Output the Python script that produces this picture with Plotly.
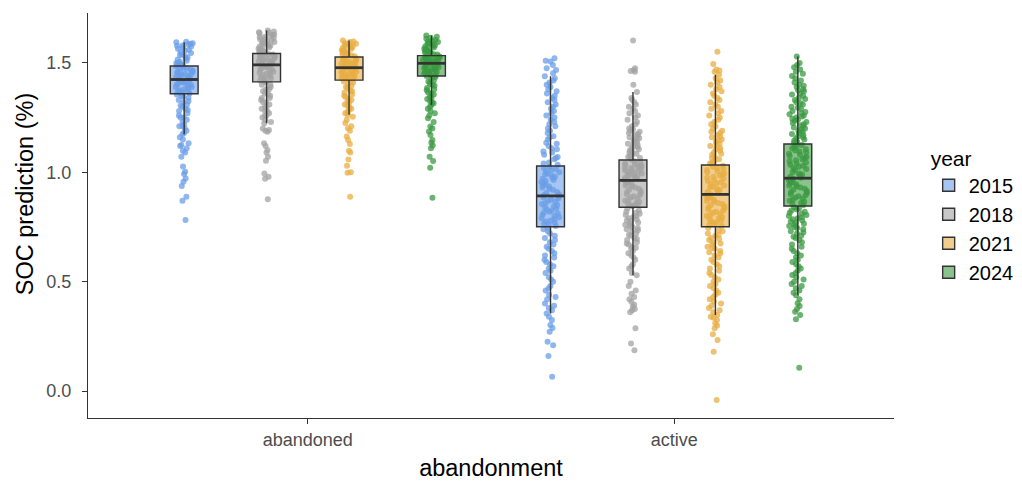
import plotly.graph_objects as go

categories = ["abandoned", "active"]
years = ["2015", "2018", "2021", "2024"]

# ---- box statistics (one value per year: 2015, 2018, 2021, 2024)
q1_abandoned = [1.359, 1.413, 1.421, 1.440]
median_abandoned = [1.424, 1.491, 1.478, 1.498]
q3_abandoned = [1.486, 1.543, 1.527, 1.533]
lower_abandoned = [1.174, 1.224, 1.263, 1.308]
upper_abandoned = [1.594, 1.648, 1.602, 1.625]

q1_active = [0.751, 0.840, 0.751, 0.846]
median_active = [0.892, 0.963, 0.899, 0.973]
q3_active = [1.029, 1.056, 1.033, 1.129]
lower_active = [0.355, 0.529, 0.348, 0.438]
upper_active = [1.439, 1.367, 1.446, 1.529]

pts_abandoned_2015 = [
    1.594, 1.59, 1.585, 1.58, 1.575, 1.57, 1.56, 1.555, 1.55, 1.54, 1.535, 1.53, 1.52, 1.51, 1.505, 1.50, 1.495, 1.49,
    1.485, 1.48, 1.475, 1.47, 1.465, 1.46, 1.455, 1.45, 1.445, 1.44, 1.435, 1.43, 1.425,
    1.42, 1.415, 1.41, 1.405, 1.40, 1.395, 1.39, 1.385, 1.38, 1.375, 1.37, 1.365, 1.36,
    1.355, 1.35, 1.34, 1.33, 1.32, 1.31, 1.30, 1.29, 1.28, 1.27, 1.26, 1.25, 1.24, 1.23, 1.22, 1.21, 1.20, 1.19, 1.18, 1.174,
    1.16, 1.15, 1.133, 1.125, 1.12, 1.11, 1.099, 1.09, 1.071, 1.026, 1.003, 0.992, 0.972, 0.957, 0.937, 0.888, 0.870, 0.782,
    1.597, 1.588, 1.578, 1.565, 1.545, 1.525, 1.515, 1.50, 1.49, 1.47, 1.46, 1.45, 1.44, 1.43, 1.41, 1.40, 1.39, 1.37,
    1.36, 1.345, 1.325, 1.305, 1.285, 1.25, 1.21,
]
pts_abandoned_2018 = [
    1.545, 1.55, 1.555, 1.56, 1.565, 1.57, 1.575, 1.58, 1.585, 1.59, 1.595, 1.60, 1.605, 1.61, 1.615, 1.62, 1.625, 1.63, 1.635, 1.64, 1.648,
    1.495, 1.50, 1.505, 1.51, 1.515, 1.52, 1.525, 1.53, 1.535, 1.54, 1.498, 1.508, 1.518, 1.528, 1.538,
    1.415, 1.42, 1.425, 1.43, 1.435, 1.44, 1.445, 1.45, 1.455, 1.46, 1.465, 1.47, 1.475, 1.48, 1.485,
    1.41, 1.40, 1.39, 1.38, 1.37, 1.36, 1.35, 1.34, 1.33, 1.32, 1.31, 1.30, 1.29, 1.28, 1.27, 1.26, 1.25, 1.24, 1.23, 1.224,
    1.20, 1.193, 1.19, 1.185, 1.133, 1.12, 1.102, 1.09, 1.071, 1.053, 0.995, 0.980, 0.97, 0.877,
    1.644, 1.638, 1.628, 1.618, 1.608, 1.598, 1.588, 1.578, 1.568, 1.558, 1.548, 1.53, 1.51, 1.49, 1.47, 1.45, 1.43,
    1.40, 1.38, 1.36, 1.34, 1.32, 1.30, 1.28, 1.26,
]
pts_abandoned_2021 = [
    1.53, 1.535, 1.54, 1.545, 1.55, 1.555, 1.56, 1.565, 1.57, 1.575, 1.58, 1.585, 1.59, 1.595, 1.602,
    1.48, 1.485, 1.49, 1.495, 1.50, 1.505, 1.51, 1.515, 1.52, 1.525, 1.483, 1.493, 1.503, 1.513,
    1.425, 1.43, 1.435, 1.44, 1.445, 1.45, 1.455, 1.46, 1.465, 1.47, 1.475, 1.428, 1.438, 1.448,
    1.415, 1.405, 1.395, 1.385, 1.375, 1.365, 1.355, 1.345, 1.335, 1.325, 1.315, 1.305, 1.295, 1.285, 1.275, 1.263,
    1.254, 1.24, 1.225, 1.21, 1.201, 1.19, 1.163, 1.148, 1.129, 1.099, 1.09, 1.059, 1.030, 1.0, 0.998, 0.888,
    1.598, 1.588, 1.578, 1.568, 1.558, 1.548, 1.538, 1.52, 1.50, 1.49, 1.47, 1.46, 1.45, 1.44, 1.43, 1.41, 1.39,
    1.37, 1.35, 1.33, 1.31, 1.29, 1.27,
]
pts_abandoned_2024 = [
    1.536, 1.54, 1.545, 1.55, 1.555, 1.56, 1.565, 1.57, 1.575, 1.58, 1.585, 1.59, 1.595, 1.60, 1.61, 1.625,
    1.50, 1.503, 1.506, 1.51, 1.513, 1.516, 1.52, 1.523, 1.526, 1.53, 1.505, 1.515, 1.525,
    1.445, 1.45, 1.455, 1.46, 1.465, 1.47, 1.475, 1.48, 1.485, 1.49, 1.495, 1.443, 1.458, 1.473,
    1.435, 1.425, 1.415, 1.405, 1.395, 1.385, 1.375, 1.365, 1.355, 1.345, 1.335, 1.325, 1.315, 1.308,
    1.30, 1.29, 1.28, 1.27, 1.26, 1.247, 1.23, 1.209, 1.20, 1.186, 1.17, 1.148, 1.135, 1.122, 1.11, 1.071, 1.052, 1.021, 0.884,
    1.62, 1.615, 1.605, 1.598, 1.588, 1.578, 1.568, 1.558, 1.548, 1.538, 1.528, 1.518, 1.508, 1.49, 1.48, 1.47, 1.46,
    1.45, 1.44, 1.42, 1.40, 1.38, 1.36, 1.34, 1.32,
]
pts_active_2015 = [
    1.035, 1.045, 1.06, 1.07, 1.08, 1.095, 1.11, 1.12, 1.135, 1.15, 1.165, 1.18, 1.20, 1.22, 1.24, 1.26, 1.28, 1.30,
    1.32, 1.34, 1.36, 1.38, 1.40, 1.42, 1.439,
    1.453, 1.468, 1.475, 1.49, 1.506, 1.521, 1.51,
    0.90, 0.91, 0.92, 0.93, 0.94, 0.95, 0.96, 0.97, 0.98, 0.99, 1.00, 1.01, 1.02, 0.905, 0.935, 0.965, 0.995, 1.015,
    0.755, 0.76, 0.77, 0.78, 0.79, 0.80, 0.81, 0.82, 0.83, 0.84, 0.85, 0.86, 0.87, 0.88, 0.89, 0.775, 0.815, 0.855,
    0.74, 0.72, 0.70, 0.68, 0.66, 0.64, 0.62, 0.60, 0.58, 0.56, 0.54, 0.52, 0.50, 0.48, 0.46, 0.44, 0.42, 0.40, 0.38,
    0.355, 0.73, 0.69, 0.65, 0.61, 0.57,
    0.340, 0.325, 0.302, 0.288, 0.271, 0.225, 0.210, 0.160, 0.065,
    0.895, 0.925, 0.945, 0.955, 0.975, 0.985, 1.005, 1.025, 0.765, 0.785, 0.795, 0.805, 0.825, 0.835, 0.845, 0.865,
    0.875, 0.885, 1.04, 1.065, 1.09, 1.105, 1.13, 1.16, 1.19, 1.21, 1.23, 1.25, 1.27, 1.29, 1.31, 1.33, 1.35, 1.37,
    1.39, 1.41, 1.43, 0.745, 0.71, 0.67, 0.63, 0.59, 0.55, 0.51, 0.47, 0.43, 0.39, 0.37,
]
pts_active_2018 = [
    1.06, 1.07, 1.08, 1.09, 1.10, 1.11, 1.12, 1.13, 1.14, 1.15, 1.16, 1.17, 1.18, 1.19, 1.20, 1.21, 1.22, 1.23, 1.24,
    1.25, 1.26, 1.28, 1.30, 1.32, 1.34, 1.367,
    1.40, 1.46, 1.463, 1.468, 1.475, 1.602,
    0.965, 0.97, 0.975, 0.98, 0.985, 0.99, 0.995, 1.00, 1.005, 1.01, 1.015, 1.02, 1.025, 1.03, 1.035, 1.04, 1.045, 1.05,
    0.845, 0.85, 0.855, 0.86, 0.87, 0.875, 0.88, 0.89, 0.895, 0.90, 0.91, 0.915, 0.92, 0.93, 0.935, 0.94, 0.95, 0.96,
    0.835, 0.82, 0.81, 0.80, 0.79, 0.78, 0.77, 0.76, 0.75, 0.74, 0.73, 0.72, 0.71, 0.70, 0.69, 0.68, 0.67, 0.66, 0.65,
    0.64, 0.62, 0.60, 0.58, 0.56, 0.54, 0.529,
    0.50, 0.48, 0.46, 0.445, 0.43, 0.42, 0.408, 0.395, 0.385, 0.375, 0.370, 0.36, 0.287, 0.218, 0.187,
    0.968, 0.978, 0.988, 0.998, 1.008, 1.018, 1.028, 1.038, 0.848, 0.858, 0.865, 0.885, 0.905, 0.925, 0.945, 0.955,
    1.065, 1.075, 1.085, 1.095, 1.105, 1.115, 1.125, 1.135, 1.145, 1.155, 1.165, 1.175, 1.185, 1.195, 1.27, 1.29,
    1.31, 1.33, 0.825, 0.815, 0.805, 0.795, 0.785, 0.775, 0.765, 0.755, 0.745, 0.735, 0.715, 0.695, 0.675, 0.655,
    0.63, 0.61, 0.57,
]
pts_active_2021 = [
    1.04, 1.05, 1.06, 1.07, 1.08, 1.09, 1.10, 1.11, 1.12, 1.13, 1.14, 1.15, 1.16, 1.17, 1.18, 1.19, 1.20, 1.22, 1.24,
    1.26, 1.28, 1.30, 1.32, 1.34, 1.36, 1.38, 1.40, 1.42, 1.446,
    1.465, 1.47, 1.46, 1.495, 1.551,
    0.90, 0.91, 0.92, 0.93, 0.94, 0.95, 0.96, 0.97, 0.98, 0.99, 1.00, 1.01, 1.02, 1.03, 0.915, 0.945, 0.975, 1.005,
    0.755, 0.765, 0.775, 0.785, 0.795, 0.805, 0.815, 0.825, 0.835, 0.845, 0.855, 0.865, 0.875, 0.885, 0.895, 0.77, 0.81, 0.85,
    0.745, 0.73, 0.72, 0.71, 0.70, 0.69, 0.68, 0.67, 0.66, 0.65, 0.64, 0.63, 0.62, 0.60, 0.58, 0.56, 0.54, 0.52, 0.50,
    0.48, 0.46, 0.44, 0.42, 0.40, 0.38, 0.36, 0.348,
    0.34, 0.335, 0.325, 0.31, 0.30, 0.287, 0.26, 0.233, 0.180, -0.041,
    0.905, 0.925, 0.935, 0.955, 0.965, 0.985, 0.995, 1.015, 1.025, 0.76, 0.78, 0.79, 0.80, 0.82, 0.83, 0.84, 0.86,
    0.87, 0.88, 0.89, 1.045, 1.065, 1.085, 1.105, 1.125, 1.145, 1.165, 1.185, 1.21, 1.23, 1.25, 1.27, 1.29, 1.31,
    1.33, 1.35, 1.37, 1.39, 1.41, 1.43, 0.735, 0.715, 0.695, 0.675, 0.655, 0.635, 0.61, 0.59, 0.57, 0.55, 0.53,
    0.51, 0.49, 0.47, 0.45, 0.43, 0.41, 0.39, 0.37,
]
pts_active_2024 = [
    1.135, 1.145, 1.155, 1.165, 1.175, 1.185, 1.195, 1.205, 1.215, 1.225, 1.235, 1.245, 1.255, 1.265, 1.275, 1.29, 1.30,
    1.31, 1.32, 1.33, 1.34, 1.35, 1.36, 1.37, 1.38, 1.39, 1.40, 1.42, 1.44, 1.46, 1.48, 1.50, 1.529,
    0.98, 0.99, 1.00, 1.01, 1.02, 1.03, 1.04, 1.05, 1.06, 1.07, 1.08, 1.09, 1.10, 1.11, 1.12, 0.985, 1.025, 1.065, 1.105,
    0.85, 0.855, 0.86, 0.87, 0.875, 0.88, 0.89, 0.895, 0.90, 0.91, 0.915, 0.92, 0.93, 0.935, 0.94, 0.95, 0.955, 0.965,
    0.84, 0.83, 0.82, 0.81, 0.80, 0.79, 0.78, 0.77, 0.76, 0.75, 0.74, 0.73, 0.72, 0.71, 0.70, 0.68, 0.66, 0.64, 0.62,
    0.60, 0.58, 0.56, 0.54, 0.52, 0.50, 0.48, 0.46, 0.438,
    0.42, 0.401, 0.389, 0.375, 0.363, 0.348, 0.328, 0.107,
    0.975, 0.995, 1.015, 1.035, 1.045, 1.055, 1.075, 1.085, 1.095, 1.115, 1.125, 0.865, 0.885, 0.905, 0.925, 0.945,
    0.96, 0.97, 1.14, 1.15, 1.16, 1.17, 1.18, 1.19, 1.20, 1.21, 1.22, 1.23, 1.24, 1.25, 1.26, 1.27, 1.28, 1.295,
    1.315, 1.335, 1.355, 1.375, 1.395, 1.41, 1.43, 1.45, 1.47, 1.49, 0.835, 0.825, 0.815, 0.805, 0.795, 0.785,
    0.775, 0.765, 0.755, 0.745, 0.725, 0.705, 0.69, 0.67, 0.65, 0.63, 0.61, 0.59, 0.57, 0.55, 0.53, 0.51, 0.49,
    0.47, 0.45,
]

# ---- styling
point_colors = ["rgb(106,158,232)", "rgb(163,163,163)", "rgb(232,173,66)", "rgb(58,154,64)"]
box_fills = ["rgba(106,158,232,0.6)", "rgba(163,163,163,0.6)", "rgba(232,173,66,0.6)", "rgba(58,154,64,0.6)"]
line_col = "#333333"
FONT = "Liberation Sans, Arial, Helvetica, sans-serif"

stats = {
    "abandoned": (q1_abandoned, median_abandoned, q3_abandoned, lower_abandoned, upper_abandoned),
    "active": (q1_active, median_active, q3_active, lower_active, upper_active),
}
points = {
    ("abandoned", 0): pts_abandoned_2015, ("abandoned", 1): pts_abandoned_2018,
    ("abandoned", 2): pts_abandoned_2021, ("abandoned", 3): pts_abandoned_2024,
    ("active", 0): pts_active_2015, ("active", 1): pts_active_2018,
    ("active", 2): pts_active_2021, ("active", 3): pts_active_2024,
}

dodge = 0.225
box_w = 0.076
jit_w = 0.05

fig = go.Figure()

def xpos(ci, yi):
    return (ci + 1) + (yi - 1.5) * dodge

# jittered points (drawn first, below the boxes)
for ci, cat in enumerate(categories):
    for yi, yr in enumerate(years):
        vals = points[(cat, yi)]
        fig.add_trace(go.Box(
            x=[xpos(ci, yi)] * len(vals), y=vals,
            boxpoints="all", jitter=1.0, pointpos=0, width=jit_w,
            marker=dict(color=point_colors[yi], size=6, opacity=0.75, line=dict(width=0)),
            line=dict(width=0, color="rgba(0,0,0,0)"), fillcolor="rgba(0,0,0,0)",
            showlegend=False, hoverinfo="y", legendgroup=yr,
        ))

# boxes from the summary statistics
for ci, cat in enumerate(categories):
    q1, med, q3, lo, up = stats[cat]
    for yi, yr in enumerate(years):
        fig.add_trace(go.Box(
            x=[xpos(ci, yi)], q1=[q1[yi]], median=[med[yi]], q3=[q3[yi]],
            lowerfence=[lo[yi]], upperfence=[up[yi]],
            width=box_w, whiskerwidth=0, boxpoints=False,
            fillcolor=box_fills[yi], line=dict(color=line_col, width=1.4),
            name=yr, legendgroup=yr, showlegend=(ci == 0),
        ))

# thicker median bars (ggplot style)
for ci, cat in enumerate(categories):
    med = stats[cat][1]
    for yi, yr in enumerate(years):
        xc = xpos(ci, yi)
        fig.add_trace(go.Scatter(
            x=[xc - box_w / 2, xc + box_w / 2], y=[med[yi], med[yi]],
            mode="lines", line=dict(color=line_col, width=2.8),
            showlegend=False, hoverinfo="skip", legendgroup=yr,
        ))

fig.update_layout(
    width=1022, height=483,
    margin=dict(l=88, r=128, t=13, b=65, autoexpand=False),
    plot_bgcolor="white", paper_bgcolor="white",
    boxmode="overlay",
    font=dict(family=FONT, color="#000000"),
    legend=dict(
        title=dict(text="year", font=dict(size=21, color="#000000")),
        font=dict(size=20, color="#000000"),
        x=1.043, xanchor="left", y=0.5, yanchor="middle",
        tracegroupgap=0, bgcolor="rgba(0,0,0,0)",
    ),
    xaxis=dict(
        range=[0.4, 2.6], tickvals=[1, 2], ticktext=categories,
        showline=True, linecolor=line_col, linewidth=1.2,
        ticks="outside", ticklen=5, tickwidth=1.2, tickcolor=line_col,
        showgrid=False, zeroline=False, automargin=False,
        tickfont=dict(size=18, color="#4D4D4D"),
        title=dict(text="abandonment", font=dict(size=23.5, color="#000000"), standoff=10),
    ),
    yaxis=dict(
        range=[-0.123, 1.728], tickvals=[0, 0.5, 1.0, 1.5], ticktext=["0.0", "0.5", "1.0", "1.5"],
        showline=True, linecolor=line_col, linewidth=1.2,
        ticks="outside", ticklen=5, tickwidth=1.2, tickcolor=line_col,
        showgrid=False, zeroline=False, automargin=False, ticklabelstandoff=7,
        tickfont=dict(size=18, color="#4D4D4D"),
    ),
    annotations=[dict(
        text="SOC prediction (%)", textangle=-90, showarrow=False,
        xref="paper", yref="paper", x=-0.078, y=0.553, xanchor="center", yanchor="middle",
        font=dict(size=23.5, color="#000000"),
    )],
)

fig.write_html("out.html", config={"displayModeBar": False},
               post_script="document.body.style.margin='0';")
